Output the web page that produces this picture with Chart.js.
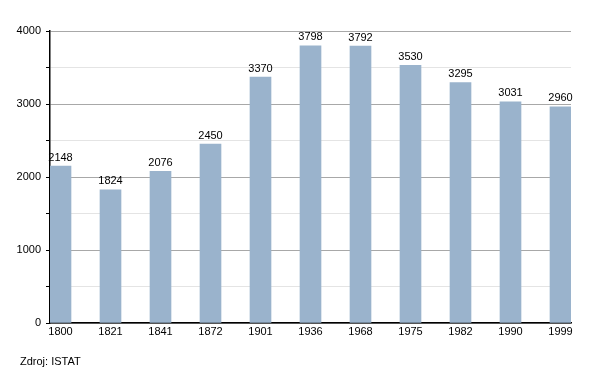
<!DOCTYPE html>
<html>
<head>
<meta charset="utf-8">
<script src="https://cdn.jsdelivr.net/npm/chart.js@4"></script>
<style>
  html, body { margin: 0; padding: 0; background: #fff; }
  #wrap { position: relative; width: 600px; height: 373px; }
  #source {
    position: absolute; left: 20px; top: 355px;
    font: 11px "Liberation Sans", Arial, sans-serif; color: #000;
  }
</style>
</head>
<body>
<div id="wrap">
  <canvas id="chart" width="600" height="373"></canvas>
  <div id="source">Zdroj: ISTAT</div>
</div>
<script>
// Population by census year
const years = ['1800', '1821', '1841', '1872', '1901', '1936', '1968', '1975', '1982', '1990', '1999'];
const population = [2148, 1824, 2076, 2450, 3370, 3798, 3792, 3530, 3295, 3031, 2960];
const yTicks = [0, 1000, 2000, 3000, 4000];

const font = { family: '"Liberation Sans", Arial, sans-serif', size: 11 };

// Draw value above each bar
const valueLabels = {
    id: 'valueLabels',
    afterDatasetsDraw(chart) {
        const ctx = chart.ctx;
        const meta = chart.getDatasetMeta(0);
        ctx.save();
        ctx.font = '11px "Liberation Sans", Arial, sans-serif';
        ctx.fillStyle = '#000';
        ctx.textAlign = 'center';
        ctx.textBaseline = 'bottom';
        meta.data.forEach((bar, i) => {
            ctx.fillText(String(population[i]), bar.x, bar.y - 3);
        });
        ctx.restore();
    }
};

new Chart(document.getElementById('chart'), {
    type: 'bar',
    data: {
        datasets: [{
            data: population.map((v, i) => ({ x: i, y: v })),
            backgroundColor: '#9ab3cc',
            barThickness: 21
        }]
    },
    options: {
        responsive: false,
        animation: false,
        layout: { padding: { top: 31, right: 29, left: 0, bottom: 0 } },
        plugins: { legend: { display: false }, tooltip: { enabled: false } },
        scales: {
            x: {
                type: 'linear',
                offset: false,
                min: -0.21,
                max: years.length - 1 + 0.21,
                afterBuildTicks: s => { s.ticks = years.map((_, i) => ({ value: i })); },
                afterFit: s => { s.height = 50; },
                grid: { display: false, drawTicks: false },
                border: { color: '#000', width: 1.5 },
                ticks: {
                    color: '#000', font: font, padding: 2, maxRotation: 0,
                    callback: v => years[v] ?? ''
                }
            },
            y: {
                min: 0,
                max: 4000,
                afterFit: s => { s.width = 50; },
                afterBuildTicks: s => {
                    const t = [];
                    for (let v = 0; v <= 4000; v += 500) t.push({ value: v });
                    s.ticks = t;
                },
                border: { color: '#000', width: 1.5 },
                grid: {
                    color: c => (c.tick && c.tick.value % 1000 === 0) ? '#a8a8a8' : '#e4e4e4',
                    tickColor: '#000',
                    tickLength: 4
                },
                ticks: {
                    color: '#000', font: font, padding: 5,
                    callback: v => yTicks.includes(v) ? String(v) : ''
                }
            }
        }
    },
    plugins: [valueLabels]
});
</script>
</body>
</html>
